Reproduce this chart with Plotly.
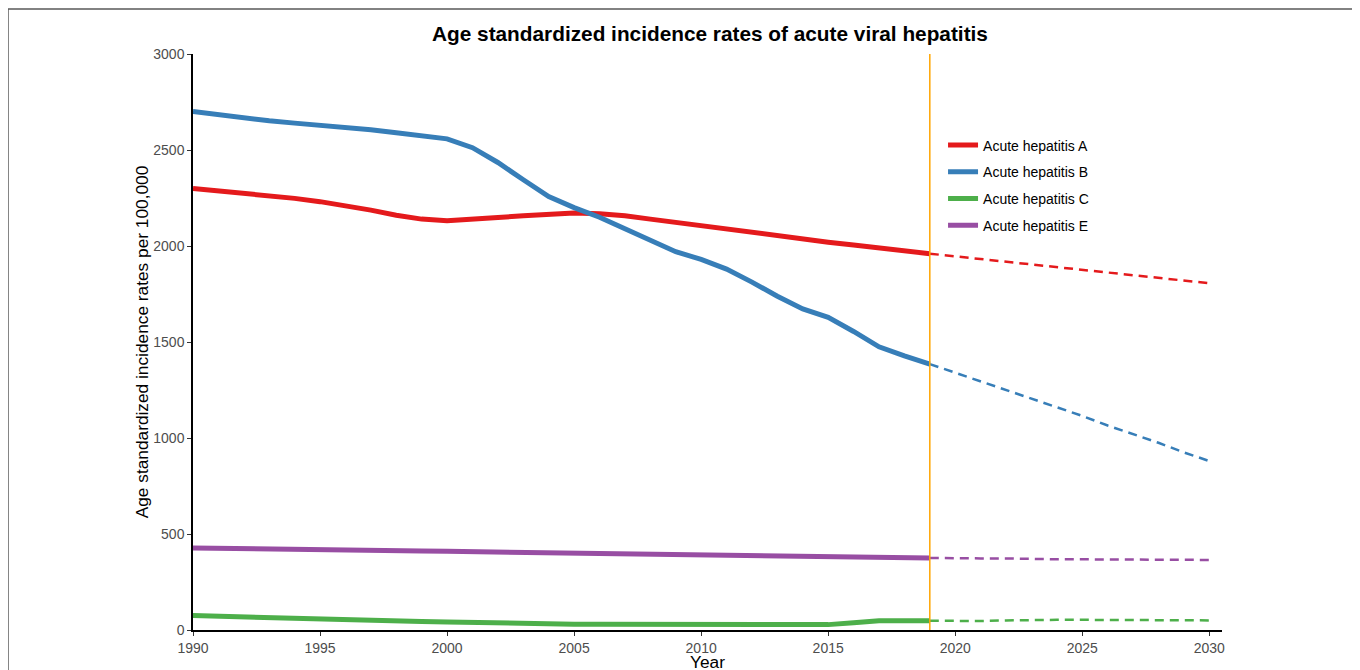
import plotly.graph_objects as go

years_hist = list(range(1990, 2020))
years_proj = list(range(2019, 2031))

hep_a = [2300, 2288, 2276, 2264, 2248, 2231, 2210, 2187, 2160, 2140,
         2132, 2138, 2148, 2158, 2167, 2172, 2168, 2158, 2140, 2122,
         2105, 2090, 2073, 2055, 2037, 2020, 2005, 1990, 1975, 1960]
hep_b = [2700, 2683, 2667, 2652, 2640, 2630, 2618, 2605, 2590, 2575,
         2558, 2512, 2435, 2345, 2257, 2200, 2150, 2090, 2030, 1970,
         1930, 1880, 1812, 1738, 1672, 1628, 1555, 1475, 1428, 1385]
hep_c = [75, 71, 67, 63, 59, 56, 53, 50, 47, 44,
         42, 39, 35, 32, 31, 30, 30, 30, 30, 30,
         30, 30, 30, 28, 28, 28, 38, 48, 48, 48]
hep_e = [427, 426, 425, 424, 423, 422, 420, 417, 415, 412,
         410, 408, 405, 401, 399, 398, 396, 394, 393, 392,
         390, 388, 386, 383, 381, 380, 379, 377, 376, 375]

proj_a = [1960, 1946, 1932, 1918, 1904, 1890, 1876, 1862, 1848, 1834, 1820, 1806]
proj_b = [1385, 1340, 1295, 1250, 1205, 1160, 1115, 1065, 1020, 975, 925, 880]
proj_c = [48, 46, 47, 50, 53, 53, 53, 53, 50, 50, 50, 50]
proj_e = [375, 373, 373, 373, 369, 368, 368, 368, 368, 366, 365, 365]

names = ["Acute hepatitis A", "Acute hepatitis B", "Acute hepatitis C", "Acute hepatitis E"]
colors = ["#E41A1C", "#377EB8", "#4DAF4A", "#984EA3"]
hist = [hep_a, hep_b, hep_c, hep_e]
proj = [proj_a, proj_b, proj_c, proj_e]

cutoff_year = 2019
x_ticks = [1990, 1995, 2000, 2005, 2010, 2015, 2020, 2025, 2030]
y_ticks = [0, 500, 1000, 1500, 2000, 2500, 3000]

FONT = "Liberation Sans, Arial, sans-serif"

fig = go.Figure()
for n, c, h, p in zip(names, colors, hist, proj):
    fig.add_trace(go.Scatter(x=years_hist, y=h, mode="lines", name=n,
                             legendgroup=n,
                             line=dict(color=c, width=5)))
    fig.add_trace(go.Scatter(x=years_proj, y=p, mode="lines", name=n,
                             legendgroup=n, showlegend=False,
                             line=dict(color=c, width=2.5, dash="9px,6px")))

fig.add_shape(type="line", xref="x", yref="paper", x0=cutoff_year, x1=cutoff_year,
              y0=0, y1=1, line=dict(color="#FFA500", width=1.5), layer="above")

# outer frame
fig.add_shape(type="rect", xref="paper", yref="paper",
              x0=-0.1798, x1=1.1293, y0=-0.12, y1=1.0781,
              line=dict(color="#5a5a5a", width=1.5), fillcolor="rgba(0,0,0,0)")

# x axis title (placed as annotation so it is not pushed down by margin constraints)
fig.add_annotation(text="Year", xref="paper", yref="paper", x=0.5, y=-32 / 576,
                   xanchor="center", yanchor="middle", showarrow=False,
                   font=dict(size=17.3, color="black", family=FONT))

fig.update_layout(
    width=1360, height=670,
    margin=dict(l=185, r=146, t=46, b=48),
    paper_bgcolor="white", plot_bgcolor="white",
    font=dict(family=FONT, color="black"),
    title=dict(text="<b>Age standardized incidence rates of acute viral hepatitis</b>",
               xref="paper", x=0.5024, xanchor="center",
               yref="container", y=1 - 26 / 670, yanchor="middle",
               font=dict(size=20.8, color="black", family=FONT)),
    showlegend=True,
    legend=dict(x=0.7289, y=0.869, xanchor="left", yanchor="top",
                font=dict(size=14, color="black"), tracegroupgap=5.5,
                bgcolor="rgba(0,0,0,0)"),
    xaxis=dict(range=[1990, 2030.5], tickvals=x_ticks, showgrid=False, zeroline=False,
               showline=True, linecolor="black", linewidth=1.5, automargin=False,
               ticks="outside", ticklen=4, tickcolor="#333333", tickwidth=1,
               tickfont=dict(size=14, color="#4d4d4d")),
    yaxis=dict(range=[0, 3000], tickvals=y_ticks, showgrid=False, zeroline=False,
               showline=True, linecolor="black", linewidth=1.5, automargin=False,
               ticks="outside", ticklen=4, tickcolor="#333333", tickwidth=1,
               tickfont=dict(size=14, color="#4d4d4d"),
               title=dict(text="Age standardized incidence rates per 100,000",
                          font=dict(size=17.3, color="black"), standoff=0)),
)

fig.write_html("out.html")
